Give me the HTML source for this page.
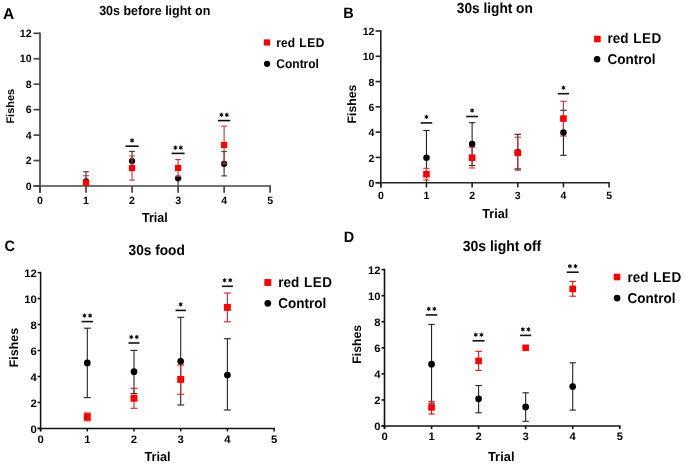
<!DOCTYPE html>
<html><head><meta charset="utf-8"><style>
html,body{margin:0;padding:0;background:#fff;}
svg{display:block;will-change:transform;}
text{font-family:"Liberation Sans", sans-serif;text-rendering:geometricPrecision;}
</style></head><body>
<svg width="685" height="464" viewBox="0 0 685 464">
<rect width="685" height="464" fill="#fff"/>
<line x1="40" y1="32.45" x2="40" y2="192.8" stroke="#444" stroke-width="1.7"/>
<line x1="33.5" y1="186" x2="271" y2="186" stroke="#444" stroke-width="1.7"/>
<line x1="33.5" y1="186" x2="40" y2="186" stroke="#444" stroke-width="1.7"/>
<text transform="translate(31.6 189.7) scale(1 1)" font-size="10.6" font-weight="bold" text-anchor="end" fill="#000">0</text>
<line x1="33.5" y1="160.55" x2="40" y2="160.55" stroke="#444" stroke-width="1.7"/>
<text transform="translate(31.6 164.25) scale(1 1)" font-size="10.6" font-weight="bold" text-anchor="end" fill="#000">2</text>
<line x1="33.5" y1="135.1" x2="40" y2="135.1" stroke="#444" stroke-width="1.7"/>
<text transform="translate(31.6 138.8) scale(1 1)" font-size="10.6" font-weight="bold" text-anchor="end" fill="#000">4</text>
<line x1="33.5" y1="109.65" x2="40" y2="109.65" stroke="#444" stroke-width="1.7"/>
<text transform="translate(31.6 113.35) scale(1 1)" font-size="10.6" font-weight="bold" text-anchor="end" fill="#000">6</text>
<line x1="33.5" y1="84.2" x2="40" y2="84.2" stroke="#444" stroke-width="1.7"/>
<text transform="translate(31.6 87.9) scale(1 1)" font-size="10.6" font-weight="bold" text-anchor="end" fill="#000">8</text>
<line x1="33.5" y1="58.75" x2="40" y2="58.75" stroke="#444" stroke-width="1.7"/>
<text transform="translate(31.6 62.45) scale(1 1)" font-size="10.6" font-weight="bold" text-anchor="end" fill="#000">10</text>
<line x1="33.5" y1="33.3" x2="40" y2="33.3" stroke="#444" stroke-width="1.7"/>
<text transform="translate(31.6 37) scale(1 1)" font-size="10.6" font-weight="bold" text-anchor="end" fill="#000">12</text>
<line x1="40" y1="186" x2="40" y2="192.8" stroke="#444" stroke-width="1.7"/>
<text transform="translate(40 204) scale(1 1)" font-size="10.6" font-weight="bold" text-anchor="middle" fill="#000">0</text>
<line x1="86.03" y1="186" x2="86.03" y2="192.8" stroke="#444" stroke-width="1.7"/>
<text transform="translate(86.03 204) scale(1 1)" font-size="10.6" font-weight="bold" text-anchor="middle" fill="#000">1</text>
<line x1="132.06" y1="186" x2="132.06" y2="192.8" stroke="#444" stroke-width="1.7"/>
<text transform="translate(132.06 204) scale(1 1)" font-size="10.6" font-weight="bold" text-anchor="middle" fill="#000">2</text>
<line x1="178.09" y1="186" x2="178.09" y2="192.8" stroke="#444" stroke-width="1.7"/>
<text transform="translate(178.09 204) scale(1 1)" font-size="10.6" font-weight="bold" text-anchor="middle" fill="#000">3</text>
<line x1="224.12" y1="186" x2="224.12" y2="192.8" stroke="#444" stroke-width="1.7"/>
<text transform="translate(224.12 204) scale(1 1)" font-size="10.6" font-weight="bold" text-anchor="middle" fill="#000">4</text>
<line x1="270.15" y1="186" x2="270.15" y2="192.8" stroke="#444" stroke-width="1.7"/>
<text transform="translate(270.15 204) scale(1 1)" font-size="10.6" font-weight="bold" text-anchor="middle" fill="#000">5</text>
<text x="14" y="106.2" font-size="11" font-weight="bold" text-anchor="middle" transform="rotate(-90 14 106.2)">Fishes</text>
<text transform="translate(154.8 221.8) scale(1 1.06)" font-size="12.5" font-weight="bold" text-anchor="middle" fill="#000">Trial</text>
<text transform="translate(154.7 14.9) scale(1 1.06)" font-size="12.5" font-weight="bold" text-anchor="middle" fill="#000">30s before light on</text>
<text transform="translate(2.9 18.8) scale(1 1)" font-size="15.6" font-weight="bold" text-anchor="start" fill="#000">A</text>
<rect x="263.9" y="39.4" width="6.2" height="6.2" fill="#f00"/>
<circle cx="267.1" cy="63.8" r="3.15" fill="#000"/>
<text transform="translate(276.3 46.7) scale(1 1.06)" font-size="12" font-weight="bold" text-anchor="start" fill="#000" word-spacing="1">red <tspan letter-spacing="0.5">LED</tspan></text>
<text transform="translate(276.3 67.5) scale(1 1.06)" font-size="12" font-weight="bold" text-anchor="start" fill="#000">Control</text>
<line x1="86.03" y1="171.7" x2="86.03" y2="186" stroke="#333" stroke-width="1.1"/>
<line x1="83.23" y1="171.7" x2="88.83" y2="171.7" stroke="#333" stroke-width="1.1"/>
<line x1="132.06" y1="151.4" x2="132.06" y2="170.5" stroke="#333" stroke-width="1.1"/>
<line x1="129.26" y1="151.4" x2="134.86" y2="151.4" stroke="#333" stroke-width="1.1"/>
<line x1="129.26" y1="170.5" x2="134.86" y2="170.5" stroke="#333" stroke-width="1.1"/>
<line x1="178.09" y1="178.3" x2="178.09" y2="186" stroke="#333" stroke-width="1.1"/>
<line x1="224.12" y1="151.6" x2="224.12" y2="175.9" stroke="#333" stroke-width="1.1"/>
<line x1="221.32" y1="151.6" x2="226.92" y2="151.6" stroke="#333" stroke-width="1.1"/>
<line x1="221.32" y1="175.9" x2="226.92" y2="175.9" stroke="#333" stroke-width="1.1"/>
<circle cx="86.03" cy="181.4" r="3.15" fill="#000"/>
<circle cx="132.06" cy="161.1" r="3.15" fill="#000"/>
<circle cx="178.09" cy="178.3" r="3.15" fill="#000"/>
<circle cx="224.12" cy="163.8" r="3.15" fill="#000"/>
<line x1="86.03" y1="175.7" x2="86.03" y2="186" stroke="#cc3838" stroke-width="1.15"/>
<line x1="83.23" y1="175.7" x2="88.83" y2="175.7" stroke="#cc3838" stroke-width="1.15"/>
<line x1="132.06" y1="155.9" x2="132.06" y2="180.1" stroke="#cc3838" stroke-width="1.15"/>
<line x1="129.26" y1="155.9" x2="134.86" y2="155.9" stroke="#cc3838" stroke-width="1.15"/>
<line x1="129.26" y1="180.1" x2="134.86" y2="180.1" stroke="#cc3838" stroke-width="1.15"/>
<line x1="178.09" y1="159.6" x2="178.09" y2="176.2" stroke="#cc3838" stroke-width="1.15"/>
<line x1="175.29" y1="159.6" x2="180.89" y2="159.6" stroke="#cc3838" stroke-width="1.15"/>
<line x1="175.29" y1="176.2" x2="180.89" y2="176.2" stroke="#cc3838" stroke-width="1.15"/>
<line x1="224.12" y1="126.2" x2="224.12" y2="163.8" stroke="#cc3838" stroke-width="1.15"/>
<line x1="221.32" y1="126.2" x2="226.92" y2="126.2" stroke="#cc3838" stroke-width="1.15"/>
<line x1="221.32" y1="163.8" x2="226.92" y2="163.8" stroke="#cc3838" stroke-width="1.15"/>
<rect x="82.93" y="179.8" width="6.2" height="6.2" fill="#f00"/>
<rect x="128.96" y="165" width="6.2" height="6.2" fill="#f00"/>
<rect x="174.99" y="164.8" width="6.2" height="6.2" fill="#f00"/>
<rect x="221.02" y="141.9" width="6.2" height="6.2" fill="#f00"/>
<line x1="125.46" y1="146.2" x2="138.66" y2="146.2" stroke="#111" stroke-width="1.6"/>
<path d="M132.06 138.7L132.06 142.3M130.5 139.6L133.62 141.4M133.62 139.6L130.5 141.4" stroke="#111" stroke-width="1" stroke-linecap="round"/>
<circle cx="132.06" cy="140.5" r="1.35" fill="#111"/>
<line x1="171.59" y1="153.4" x2="184.59" y2="153.4" stroke="#111" stroke-width="1.6"/>
<path d="M175.39 145.9L175.39 149.5M173.83 146.8L176.95 148.6M176.95 146.8L173.83 148.6" stroke="#111" stroke-width="1" stroke-linecap="round"/>
<circle cx="175.39" cy="147.7" r="1.35" fill="#111"/>
<path d="M180.79 145.9L180.79 149.5M179.23 146.8L182.35 148.6M182.35 146.8L179.23 148.6" stroke="#111" stroke-width="1" stroke-linecap="round"/>
<circle cx="180.79" cy="147.7" r="1.35" fill="#111"/>
<line x1="217.92" y1="120.6" x2="230.32" y2="120.6" stroke="#111" stroke-width="1.6"/>
<path d="M221.42 113.1L221.42 116.7M219.86 114L222.98 115.8M222.98 114L219.86 115.8" stroke="#111" stroke-width="1" stroke-linecap="round"/>
<circle cx="221.42" cy="114.9" r="1.35" fill="#111"/>
<path d="M226.82 113.1L226.82 116.7M225.26 114L228.38 115.8M228.38 114L225.26 115.8" stroke="#111" stroke-width="1" stroke-linecap="round"/>
<circle cx="226.82" cy="114.9" r="1.35" fill="#111"/>
<line x1="380.8" y1="30.2" x2="380.8" y2="187.4" stroke="#222" stroke-width="1.6"/>
<line x1="375.6" y1="182.7" x2="609.9" y2="182.7" stroke="#222" stroke-width="1.6"/>
<line x1="375.6" y1="182.7" x2="380.8" y2="182.7" stroke="#222" stroke-width="1.6"/>
<text transform="translate(374.4 186.9) scale(1 1)" font-size="10.5" font-weight="bold" text-anchor="end" fill="#000">0</text>
<line x1="375.6" y1="157.42" x2="380.8" y2="157.42" stroke="#222" stroke-width="1.6"/>
<text transform="translate(374.4 161.62) scale(1 1)" font-size="10.5" font-weight="bold" text-anchor="end" fill="#000">2</text>
<line x1="375.6" y1="132.13" x2="380.8" y2="132.13" stroke="#222" stroke-width="1.6"/>
<text transform="translate(374.4 136.33) scale(1 1)" font-size="10.5" font-weight="bold" text-anchor="end" fill="#000">4</text>
<line x1="375.6" y1="106.85" x2="380.8" y2="106.85" stroke="#222" stroke-width="1.6"/>
<text transform="translate(374.4 111.05) scale(1 1)" font-size="10.5" font-weight="bold" text-anchor="end" fill="#000">6</text>
<line x1="375.6" y1="81.57" x2="380.8" y2="81.57" stroke="#222" stroke-width="1.6"/>
<text transform="translate(374.4 85.77) scale(1 1)" font-size="10.5" font-weight="bold" text-anchor="end" fill="#000">8</text>
<line x1="375.6" y1="56.28" x2="380.8" y2="56.28" stroke="#222" stroke-width="1.6"/>
<text transform="translate(374.4 60.48) scale(1 1)" font-size="10.5" font-weight="bold" text-anchor="end" fill="#000">10</text>
<line x1="375.6" y1="31" x2="380.8" y2="31" stroke="#222" stroke-width="1.6"/>
<text transform="translate(374.4 35.2) scale(1 1)" font-size="10.5" font-weight="bold" text-anchor="end" fill="#000">12</text>
<line x1="380.8" y1="182.7" x2="380.8" y2="187.4" stroke="#222" stroke-width="1.6"/>
<text transform="translate(380.8 199.3) scale(1 1)" font-size="10.5" font-weight="bold" text-anchor="middle" fill="#000">0</text>
<line x1="426.46" y1="182.7" x2="426.46" y2="187.4" stroke="#222" stroke-width="1.6"/>
<text transform="translate(426.46 199.3) scale(1 1)" font-size="10.5" font-weight="bold" text-anchor="middle" fill="#000">1</text>
<line x1="472.12" y1="182.7" x2="472.12" y2="187.4" stroke="#222" stroke-width="1.6"/>
<text transform="translate(472.12 199.3) scale(1 1)" font-size="10.5" font-weight="bold" text-anchor="middle" fill="#000">2</text>
<line x1="517.78" y1="182.7" x2="517.78" y2="187.4" stroke="#222" stroke-width="1.6"/>
<text transform="translate(517.78 199.3) scale(1 1)" font-size="10.5" font-weight="bold" text-anchor="middle" fill="#000">3</text>
<line x1="563.44" y1="182.7" x2="563.44" y2="187.4" stroke="#222" stroke-width="1.6"/>
<text transform="translate(563.44 199.3) scale(1 1)" font-size="10.5" font-weight="bold" text-anchor="middle" fill="#000">4</text>
<line x1="609.1" y1="182.7" x2="609.1" y2="187.4" stroke="#222" stroke-width="1.6"/>
<text transform="translate(609.1 199.3) scale(1 1)" font-size="10.5" font-weight="bold" text-anchor="middle" fill="#000">5</text>
<text x="356.2" y="104" font-size="12.3" font-weight="bold" text-anchor="middle" transform="rotate(-90 356.2 104)">Fishes</text>
<text transform="translate(495.2 217.8) scale(1 1.03)" font-size="12.6" font-weight="bold" text-anchor="middle" fill="#000">Trial</text>
<text transform="translate(494.8 12.7) scale(1 1.06)" font-size="13.7" font-weight="bold" text-anchor="middle" fill="#000">30s light on</text>
<text transform="translate(343.3 18.3) scale(1 1.04)" font-size="14.5" font-weight="bold" text-anchor="start" fill="#000">B</text>
<rect x="594.1" y="35.7" width="6.6" height="6.6" fill="#f00"/>
<circle cx="597.1" cy="59.2" r="3.25" fill="#000"/>
<text transform="translate(607.5 43) scale(1 1.06)" font-size="13.5" font-weight="bold" text-anchor="start" fill="#000" word-spacing="1">red <tspan letter-spacing="0.5">LED</tspan></text>
<text transform="translate(607.5 63.5) scale(1 1.06)" font-size="13.5" font-weight="bold" text-anchor="start" fill="#000">Control</text>
<line x1="426.46" y1="130.5" x2="426.46" y2="182.7" stroke="#222" stroke-width="1.1"/>
<line x1="423.26" y1="130.5" x2="429.66" y2="130.5" stroke="#222" stroke-width="1.1"/>
<line x1="472.12" y1="122.7" x2="472.12" y2="165.5" stroke="#222" stroke-width="1.1"/>
<line x1="468.92" y1="122.7" x2="475.32" y2="122.7" stroke="#222" stroke-width="1.1"/>
<line x1="468.92" y1="165.5" x2="475.32" y2="165.5" stroke="#222" stroke-width="1.1"/>
<line x1="517.78" y1="134.3" x2="517.78" y2="170" stroke="#222" stroke-width="1.1"/>
<line x1="514.58" y1="134.3" x2="520.98" y2="134.3" stroke="#222" stroke-width="1.1"/>
<line x1="514.58" y1="170" x2="520.98" y2="170" stroke="#222" stroke-width="1.1"/>
<line x1="563.44" y1="110.3" x2="563.44" y2="155.3" stroke="#222" stroke-width="1.1"/>
<line x1="560.24" y1="110.3" x2="566.64" y2="110.3" stroke="#222" stroke-width="1.1"/>
<line x1="560.24" y1="155.3" x2="566.64" y2="155.3" stroke="#222" stroke-width="1.1"/>
<line x1="426.46" y1="168.3" x2="426.46" y2="180" stroke="#d83030" stroke-width="1.1"/>
<line x1="423.26" y1="168.3" x2="429.66" y2="168.3" stroke="#d83030" stroke-width="1.1"/>
<line x1="423.26" y1="180" x2="429.66" y2="180" stroke="#d83030" stroke-width="1.1"/>
<line x1="472.12" y1="147.2" x2="472.12" y2="168" stroke="#d83030" stroke-width="1.1"/>
<line x1="468.92" y1="147.2" x2="475.32" y2="147.2" stroke="#d83030" stroke-width="1.1"/>
<line x1="468.92" y1="168" x2="475.32" y2="168" stroke="#d83030" stroke-width="1.1"/>
<line x1="517.78" y1="137.2" x2="517.78" y2="168.6" stroke="#d83030" stroke-width="1.1"/>
<line x1="514.58" y1="137.2" x2="520.98" y2="137.2" stroke="#d83030" stroke-width="1.1"/>
<line x1="514.58" y1="168.6" x2="520.98" y2="168.6" stroke="#d83030" stroke-width="1.1"/>
<line x1="563.44" y1="101.3" x2="563.44" y2="136.1" stroke="#d83030" stroke-width="1.1"/>
<line x1="560.24" y1="101.3" x2="566.64" y2="101.3" stroke="#d83030" stroke-width="1.1"/>
<line x1="560.24" y1="136.1" x2="566.64" y2="136.1" stroke="#d83030" stroke-width="1.1"/>
<circle cx="426.46" cy="157.7" r="3.25" fill="#000"/>
<circle cx="472.12" cy="144.1" r="3.25" fill="#000"/>
<circle cx="517.78" cy="152.2" r="3.25" fill="#000"/>
<circle cx="563.44" cy="132.6" r="3.25" fill="#000"/>
<rect x="423.16" y="170.9" width="6.6" height="6.6" fill="#f00"/>
<rect x="468.82" y="154.4" width="6.6" height="6.6" fill="#f00"/>
<rect x="514.48" y="149.5" width="6.6" height="6.6" fill="#f00"/>
<rect x="560.14" y="115.3" width="6.6" height="6.6" fill="#f00"/>
<line x1="420.66" y1="122.9" x2="432.26" y2="122.9" stroke="#111" stroke-width="1.6"/>
<path d="M426.46 115.15L426.46 118.65M424.94 116.03L427.98 117.78M427.98 116.03L424.94 117.78" stroke="#111" stroke-width="1" stroke-linecap="round"/>
<circle cx="426.46" cy="116.9" r="1.31" fill="#111"/>
<line x1="466.22" y1="116.5" x2="478.02" y2="116.5" stroke="#111" stroke-width="1.6"/>
<path d="M472.12 108.75L472.12 112.25M470.6 109.62L473.64 111.38M473.64 109.62L470.6 111.38" stroke="#111" stroke-width="1" stroke-linecap="round"/>
<circle cx="472.12" cy="110.5" r="1.31" fill="#111"/>
<line x1="557.74" y1="93.7" x2="569.14" y2="93.7" stroke="#111" stroke-width="1.6"/>
<path d="M563.44 85.95L563.44 89.45M561.92 86.83L564.96 88.58M564.96 86.83L561.92 88.58" stroke="#111" stroke-width="1" stroke-linecap="round"/>
<circle cx="563.44" cy="87.7" r="1.31" fill="#111"/>
<line x1="40.6" y1="271.85" x2="40.6" y2="431.4" stroke="#111" stroke-width="1.5"/>
<line x1="37.6" y1="428.4" x2="274.85" y2="428.4" stroke="#111" stroke-width="1.5"/>
<line x1="37.6" y1="428.4" x2="40.6" y2="428.4" stroke="#111" stroke-width="1.5"/>
<text transform="translate(36.8 433) scale(1 0.96)" font-size="11.3" font-weight="bold" text-anchor="end" fill="#000">0</text>
<line x1="37.6" y1="402.43" x2="40.6" y2="402.43" stroke="#111" stroke-width="1.5"/>
<text transform="translate(36.8 407.03) scale(1 0.96)" font-size="11.3" font-weight="bold" text-anchor="end" fill="#000">2</text>
<line x1="37.6" y1="376.47" x2="40.6" y2="376.47" stroke="#111" stroke-width="1.5"/>
<text transform="translate(36.8 381.07) scale(1 0.96)" font-size="11.3" font-weight="bold" text-anchor="end" fill="#000">4</text>
<line x1="37.6" y1="350.5" x2="40.6" y2="350.5" stroke="#111" stroke-width="1.5"/>
<text transform="translate(36.8 355.1) scale(1 0.96)" font-size="11.3" font-weight="bold" text-anchor="end" fill="#000">6</text>
<line x1="37.6" y1="324.53" x2="40.6" y2="324.53" stroke="#111" stroke-width="1.5"/>
<text transform="translate(36.8 329.13) scale(1 0.96)" font-size="11.3" font-weight="bold" text-anchor="end" fill="#000">8</text>
<line x1="37.6" y1="298.57" x2="40.6" y2="298.57" stroke="#111" stroke-width="1.5"/>
<text transform="translate(36.8 303.17) scale(1 0.96)" font-size="11.3" font-weight="bold" text-anchor="end" fill="#000">10</text>
<line x1="37.6" y1="272.6" x2="40.6" y2="272.6" stroke="#111" stroke-width="1.5"/>
<text transform="translate(36.8 277.2) scale(1 0.96)" font-size="11.3" font-weight="bold" text-anchor="end" fill="#000">12</text>
<line x1="40.6" y1="428.4" x2="40.6" y2="431.4" stroke="#111" stroke-width="1.5"/>
<text transform="translate(40.6 443.4) scale(1 0.96)" font-size="11.3" font-weight="bold" text-anchor="middle" fill="#000">0</text>
<line x1="87.3" y1="428.4" x2="87.3" y2="431.4" stroke="#111" stroke-width="1.5"/>
<text transform="translate(87.3 443.4) scale(1 0.96)" font-size="11.3" font-weight="bold" text-anchor="middle" fill="#000">1</text>
<line x1="134" y1="428.4" x2="134" y2="431.4" stroke="#111" stroke-width="1.5"/>
<text transform="translate(134 443.4) scale(1 0.96)" font-size="11.3" font-weight="bold" text-anchor="middle" fill="#000">2</text>
<line x1="180.7" y1="428.4" x2="180.7" y2="431.4" stroke="#111" stroke-width="1.5"/>
<text transform="translate(180.7 443.4) scale(1 0.96)" font-size="11.3" font-weight="bold" text-anchor="middle" fill="#000">3</text>
<line x1="227.4" y1="428.4" x2="227.4" y2="431.4" stroke="#111" stroke-width="1.5"/>
<text transform="translate(227.4 443.4) scale(1 0.96)" font-size="11.3" font-weight="bold" text-anchor="middle" fill="#000">4</text>
<line x1="274.1" y1="428.4" x2="274.1" y2="431.4" stroke="#111" stroke-width="1.5"/>
<text transform="translate(274.1 443.4) scale(1 0.96)" font-size="11.3" font-weight="bold" text-anchor="middle" fill="#000">5</text>
<text x="17.6" y="347.6" font-size="12.4" font-weight="bold" text-anchor="middle" transform="rotate(-90 17.6 347.6)">Fishes</text>
<text transform="translate(157.5 460.8) scale(1 1.02)" font-size="12.7" font-weight="bold" text-anchor="middle" fill="#000">Trial</text>
<text transform="translate(156.7 254.7) scale(1 1.06)" font-size="13.7" font-weight="bold" text-anchor="middle" fill="#000">30s food</text>
<text transform="translate(4.6 251.4) scale(1 1.04)" font-size="14.5" font-weight="bold" text-anchor="start" fill="#000">C</text>
<rect x="264.35" y="279.05" width="6.9" height="6.9" fill="#f00"/>
<circle cx="267.8" cy="303.3" r="3.35" fill="#000"/>
<text transform="translate(278.2 287.1) scale(1 1.06)" font-size="13.5" font-weight="bold" text-anchor="start" fill="#000" word-spacing="1">red <tspan letter-spacing="0.5">LED</tspan></text>
<text transform="translate(278.2 308.1) scale(1 1.06)" font-size="13.5" font-weight="bold" text-anchor="start" fill="#000">Control</text>
<line x1="87.3" y1="328.2" x2="87.3" y2="397.6" stroke="#222" stroke-width="1.1"/>
<line x1="83.8" y1="328.2" x2="90.8" y2="328.2" stroke="#222" stroke-width="1.1"/>
<line x1="83.8" y1="397.6" x2="90.8" y2="397.6" stroke="#222" stroke-width="1.1"/>
<line x1="134" y1="350.4" x2="134" y2="393.5" stroke="#222" stroke-width="1.1"/>
<line x1="130.5" y1="350.4" x2="137.5" y2="350.4" stroke="#222" stroke-width="1.1"/>
<line x1="130.5" y1="393.5" x2="137.5" y2="393.5" stroke="#222" stroke-width="1.1"/>
<line x1="180.7" y1="317.3" x2="180.7" y2="405" stroke="#222" stroke-width="1.1"/>
<line x1="177.2" y1="317.3" x2="184.2" y2="317.3" stroke="#222" stroke-width="1.1"/>
<line x1="177.2" y1="405" x2="184.2" y2="405" stroke="#222" stroke-width="1.1"/>
<line x1="227.4" y1="338.7" x2="227.4" y2="410" stroke="#222" stroke-width="1.1"/>
<line x1="223.9" y1="338.7" x2="230.9" y2="338.7" stroke="#222" stroke-width="1.1"/>
<line x1="223.9" y1="410" x2="230.9" y2="410" stroke="#222" stroke-width="1.1"/>
<line x1="87.3" y1="413" x2="87.3" y2="420.8" stroke="#d42a2a" stroke-width="1.15"/>
<line x1="83.8" y1="413" x2="90.8" y2="413" stroke="#d42a2a" stroke-width="1.15"/>
<line x1="83.8" y1="420.8" x2="90.8" y2="420.8" stroke="#d42a2a" stroke-width="1.15"/>
<line x1="134" y1="388.3" x2="134" y2="408.3" stroke="#d42a2a" stroke-width="1.15"/>
<line x1="130.5" y1="388.3" x2="137.5" y2="388.3" stroke="#d42a2a" stroke-width="1.15"/>
<line x1="130.5" y1="408.3" x2="137.5" y2="408.3" stroke="#d42a2a" stroke-width="1.15"/>
<line x1="180.7" y1="365" x2="180.7" y2="394.3" stroke="#d42a2a" stroke-width="1.15"/>
<line x1="177.2" y1="365" x2="184.2" y2="365" stroke="#d42a2a" stroke-width="1.15"/>
<line x1="177.2" y1="394.3" x2="184.2" y2="394.3" stroke="#d42a2a" stroke-width="1.15"/>
<line x1="227.4" y1="293" x2="227.4" y2="321.8" stroke="#d42a2a" stroke-width="1.15"/>
<line x1="223.9" y1="293" x2="230.9" y2="293" stroke="#d42a2a" stroke-width="1.15"/>
<line x1="223.9" y1="321.8" x2="230.9" y2="321.8" stroke="#d42a2a" stroke-width="1.15"/>
<circle cx="87.3" cy="362.9" r="3.35" fill="#000"/>
<circle cx="134" cy="371.7" r="3.35" fill="#000"/>
<circle cx="180.7" cy="361.3" r="3.35" fill="#000"/>
<circle cx="227.4" cy="375" r="3.35" fill="#000"/>
<rect x="83.85" y="413.45" width="6.9" height="6.9" fill="#f00"/>
<rect x="130.55" y="394.85" width="6.9" height="6.9" fill="#f00"/>
<rect x="177.25" y="375.95" width="6.9" height="6.9" fill="#f00"/>
<rect x="223.95" y="303.95" width="6.9" height="6.9" fill="#f00"/>
<line x1="81.6" y1="321.6" x2="93" y2="321.6" stroke="#111" stroke-width="1.6"/>
<path d="M84.5 313.85L84.5 317.35M82.98 314.73L86.02 316.48M86.02 314.73L82.98 316.48" stroke="#111" stroke-width="1" stroke-linecap="round"/>
<circle cx="84.5" cy="315.6" r="1.31" fill="#111"/>
<path d="M90.1 313.85L90.1 317.35M88.58 314.73L91.62 316.48M91.62 314.73L88.58 316.48" stroke="#111" stroke-width="1" stroke-linecap="round"/>
<circle cx="90.1" cy="315.6" r="1.31" fill="#111"/>
<line x1="128.5" y1="343" x2="139.5" y2="343" stroke="#111" stroke-width="1.6"/>
<path d="M131.2 335.25L131.2 338.75M129.68 336.12L132.72 337.88M132.72 336.12L129.68 337.88" stroke="#111" stroke-width="1" stroke-linecap="round"/>
<circle cx="131.2" cy="337" r="1.31" fill="#111"/>
<path d="M136.8 335.25L136.8 338.75M135.28 336.12L138.32 337.88M138.32 336.12L135.28 337.88" stroke="#111" stroke-width="1" stroke-linecap="round"/>
<circle cx="136.8" cy="337" r="1.31" fill="#111"/>
<line x1="175.5" y1="310.4" x2="185.9" y2="310.4" stroke="#111" stroke-width="1.6"/>
<path d="M180.7 302.65L180.7 306.15M179.18 303.52L182.22 305.27M182.22 303.52L179.18 305.27" stroke="#111" stroke-width="1" stroke-linecap="round"/>
<circle cx="180.7" cy="304.4" r="1.31" fill="#111"/>
<line x1="221.9" y1="286.3" x2="232.9" y2="286.3" stroke="#111" stroke-width="1.6"/>
<path d="M224.6 278.55L224.6 282.05M223.08 279.43L226.12 281.18M226.12 279.43L223.08 281.18" stroke="#111" stroke-width="1" stroke-linecap="round"/>
<circle cx="224.6" cy="280.3" r="1.31" fill="#111"/>
<path d="M230.2 278.55L230.2 282.05M228.68 279.43L231.72 281.18M231.72 279.43L228.68 281.18" stroke="#111" stroke-width="1" stroke-linecap="round"/>
<circle cx="230.2" cy="280.3" r="1.31" fill="#111"/>
<line x1="384.5" y1="268.8" x2="384.5" y2="429" stroke="#111" stroke-width="1.6"/>
<line x1="381.5" y1="426" x2="620.55" y2="426" stroke="#111" stroke-width="1.6"/>
<line x1="381.5" y1="426" x2="384.5" y2="426" stroke="#111" stroke-width="1.6"/>
<text transform="translate(380.4 430.4) scale(1 0.96)" font-size="11.2" font-weight="bold" text-anchor="end" fill="#000">0</text>
<line x1="381.5" y1="399.93" x2="384.5" y2="399.93" stroke="#111" stroke-width="1.6"/>
<text transform="translate(380.4 404.33) scale(1 0.96)" font-size="11.2" font-weight="bold" text-anchor="end" fill="#000">2</text>
<line x1="381.5" y1="373.87" x2="384.5" y2="373.87" stroke="#111" stroke-width="1.6"/>
<text transform="translate(380.4 378.27) scale(1 0.96)" font-size="11.2" font-weight="bold" text-anchor="end" fill="#000">4</text>
<line x1="381.5" y1="347.8" x2="384.5" y2="347.8" stroke="#111" stroke-width="1.6"/>
<text transform="translate(380.4 352.2) scale(1 0.96)" font-size="11.2" font-weight="bold" text-anchor="end" fill="#000">6</text>
<line x1="381.5" y1="321.73" x2="384.5" y2="321.73" stroke="#111" stroke-width="1.6"/>
<text transform="translate(380.4 326.13) scale(1 0.96)" font-size="11.2" font-weight="bold" text-anchor="end" fill="#000">8</text>
<line x1="381.5" y1="295.67" x2="384.5" y2="295.67" stroke="#111" stroke-width="1.6"/>
<text transform="translate(380.4 300.07) scale(1 0.96)" font-size="11.2" font-weight="bold" text-anchor="end" fill="#000">10</text>
<line x1="381.5" y1="269.6" x2="384.5" y2="269.6" stroke="#111" stroke-width="1.6"/>
<text transform="translate(380.4 274) scale(1 0.96)" font-size="11.2" font-weight="bold" text-anchor="end" fill="#000">12</text>
<line x1="384.5" y1="426" x2="384.5" y2="429" stroke="#111" stroke-width="1.6"/>
<text transform="translate(384.5 440.3) scale(1 0.96)" font-size="11.2" font-weight="bold" text-anchor="middle" fill="#000">0</text>
<line x1="431.55" y1="426" x2="431.55" y2="429" stroke="#111" stroke-width="1.6"/>
<text transform="translate(431.55 440.3) scale(1 0.96)" font-size="11.2" font-weight="bold" text-anchor="middle" fill="#000">1</text>
<line x1="478.6" y1="426" x2="478.6" y2="429" stroke="#111" stroke-width="1.6"/>
<text transform="translate(478.6 440.3) scale(1 0.96)" font-size="11.2" font-weight="bold" text-anchor="middle" fill="#000">2</text>
<line x1="525.65" y1="426" x2="525.65" y2="429" stroke="#111" stroke-width="1.6"/>
<text transform="translate(525.65 440.3) scale(1 0.96)" font-size="11.2" font-weight="bold" text-anchor="middle" fill="#000">3</text>
<line x1="572.7" y1="426" x2="572.7" y2="429" stroke="#111" stroke-width="1.6"/>
<text transform="translate(572.7 440.3) scale(1 0.96)" font-size="11.2" font-weight="bold" text-anchor="middle" fill="#000">4</text>
<line x1="619.75" y1="426" x2="619.75" y2="429" stroke="#111" stroke-width="1.6"/>
<text transform="translate(619.75 440.3) scale(1 0.96)" font-size="11.2" font-weight="bold" text-anchor="middle" fill="#000">5</text>
<text x="360.9" y="344.3" font-size="12.3" font-weight="bold" text-anchor="middle" transform="rotate(-90 360.9 344.3)">Fishes</text>
<text transform="translate(501.2 461) scale(1 1.01)" font-size="12.9" font-weight="bold" text-anchor="middle" fill="#000">Trial</text>
<text transform="translate(502 250.7) scale(1 1.06)" font-size="14" font-weight="bold" text-anchor="middle" fill="#000">30s light off</text>
<text transform="translate(343.8 241.8) scale(1 1.04)" font-size="14.5" font-weight="bold" text-anchor="start" fill="#000">D</text>
<rect x="613.7" y="273.7" width="6.6" height="6.6" fill="#f00"/>
<circle cx="617.1" cy="298.1" r="3.35" fill="#000"/>
<text transform="translate(627.5 281.7) scale(1 1.06)" font-size="13.5" font-weight="bold" text-anchor="start" fill="#000" word-spacing="1">red <tspan letter-spacing="0.5">LED</tspan></text>
<text transform="translate(627.5 302.7) scale(1 1.06)" font-size="13.5" font-weight="bold" text-anchor="start" fill="#000">Control</text>
<line x1="431.55" y1="324.4" x2="431.55" y2="403.1" stroke="#222" stroke-width="1.1"/>
<line x1="428.35" y1="324.4" x2="434.75" y2="324.4" stroke="#222" stroke-width="1.1"/>
<line x1="428.35" y1="403.1" x2="434.75" y2="403.1" stroke="#222" stroke-width="1.1"/>
<line x1="478.6" y1="385.5" x2="478.6" y2="412.8" stroke="#222" stroke-width="1.1"/>
<line x1="475.4" y1="385.5" x2="481.8" y2="385.5" stroke="#222" stroke-width="1.1"/>
<line x1="475.4" y1="412.8" x2="481.8" y2="412.8" stroke="#222" stroke-width="1.1"/>
<line x1="525.65" y1="392.8" x2="525.65" y2="421.3" stroke="#222" stroke-width="1.1"/>
<line x1="522.45" y1="392.8" x2="528.85" y2="392.8" stroke="#222" stroke-width="1.1"/>
<line x1="522.45" y1="421.3" x2="528.85" y2="421.3" stroke="#222" stroke-width="1.1"/>
<line x1="572.7" y1="362.8" x2="572.7" y2="410.1" stroke="#222" stroke-width="1.1"/>
<line x1="569.5" y1="362.8" x2="575.9" y2="362.8" stroke="#222" stroke-width="1.1"/>
<line x1="569.5" y1="410.1" x2="575.9" y2="410.1" stroke="#222" stroke-width="1.1"/>
<line x1="431.55" y1="401.3" x2="431.55" y2="414" stroke="#e81010" stroke-width="1.1"/>
<line x1="428.35" y1="401.3" x2="434.75" y2="401.3" stroke="#e81010" stroke-width="1.1"/>
<line x1="428.35" y1="414" x2="434.75" y2="414" stroke="#e81010" stroke-width="1.1"/>
<line x1="478.6" y1="351.3" x2="478.6" y2="370.5" stroke="#e81010" stroke-width="1.1"/>
<line x1="475.4" y1="351.3" x2="481.8" y2="351.3" stroke="#e81010" stroke-width="1.1"/>
<line x1="475.4" y1="370.5" x2="481.8" y2="370.5" stroke="#e81010" stroke-width="1.1"/>
<line x1="572.7" y1="281.4" x2="572.7" y2="296.2" stroke="#e81010" stroke-width="1.1"/>
<line x1="569.5" y1="281.4" x2="575.9" y2="281.4" stroke="#e81010" stroke-width="1.1"/>
<line x1="569.5" y1="296.2" x2="575.9" y2="296.2" stroke="#e81010" stroke-width="1.1"/>
<circle cx="431.55" cy="364.2" r="3.35" fill="#000"/>
<circle cx="478.6" cy="398.8" r="3.35" fill="#000"/>
<circle cx="525.65" cy="406.9" r="3.35" fill="#000"/>
<circle cx="572.7" cy="386.6" r="3.35" fill="#000"/>
<rect x="428.25" y="404.1" width="6.6" height="6.6" fill="#f00"/>
<rect x="475.3" y="357.6" width="6.6" height="6.6" fill="#f00"/>
<rect x="522.35" y="344.5" width="6.6" height="6.6" fill="#f00"/>
<rect x="569.4" y="285.6" width="6.6" height="6.6" fill="#f00"/>
<line x1="425.75" y1="314.9" x2="437.35" y2="314.9" stroke="#111" stroke-width="1.6"/>
<path d="M428.75 307.15L428.75 310.65M427.23 308.02L430.27 309.77M430.27 308.02L427.23 309.77" stroke="#111" stroke-width="1" stroke-linecap="round"/>
<circle cx="428.75" cy="308.9" r="1.31" fill="#111"/>
<path d="M434.35 307.15L434.35 310.65M432.83 308.02L435.87 309.77M435.87 308.02L432.83 309.77" stroke="#111" stroke-width="1" stroke-linecap="round"/>
<circle cx="434.35" cy="308.9" r="1.31" fill="#111"/>
<line x1="472.6" y1="340.8" x2="484.6" y2="340.8" stroke="#111" stroke-width="1.6"/>
<path d="M475.8 333.05L475.8 336.55M474.28 333.93L477.32 335.68M477.32 333.93L474.28 335.68" stroke="#111" stroke-width="1" stroke-linecap="round"/>
<circle cx="475.8" cy="334.8" r="1.31" fill="#111"/>
<path d="M481.4 333.05L481.4 336.55M479.88 333.93L482.92 335.68M482.92 333.93L479.88 335.68" stroke="#111" stroke-width="1" stroke-linecap="round"/>
<circle cx="481.4" cy="334.8" r="1.31" fill="#111"/>
<line x1="520.05" y1="335.4" x2="531.25" y2="335.4" stroke="#111" stroke-width="1.6"/>
<path d="M522.85 327.65L522.85 331.15M521.33 328.52L524.37 330.27M524.37 328.52L521.33 330.27" stroke="#111" stroke-width="1" stroke-linecap="round"/>
<circle cx="522.85" cy="329.4" r="1.31" fill="#111"/>
<path d="M528.45 327.65L528.45 331.15M526.93 328.52L529.97 330.27M529.97 328.52L526.93 330.27" stroke="#111" stroke-width="1" stroke-linecap="round"/>
<circle cx="528.45" cy="329.4" r="1.31" fill="#111"/>
<line x1="566.7" y1="272.2" x2="578.7" y2="272.2" stroke="#111" stroke-width="1.6"/>
<path d="M569.9 264.45L569.9 267.95M568.38 265.32L571.42 267.07M571.42 265.32L568.38 267.07" stroke="#111" stroke-width="1" stroke-linecap="round"/>
<circle cx="569.9" cy="266.2" r="1.31" fill="#111"/>
<path d="M575.5 264.45L575.5 267.95M573.98 265.32L577.02 267.07M577.02 265.32L573.98 267.07" stroke="#111" stroke-width="1" stroke-linecap="round"/>
<circle cx="575.5" cy="266.2" r="1.31" fill="#111"/>
</svg>
</body></html>
